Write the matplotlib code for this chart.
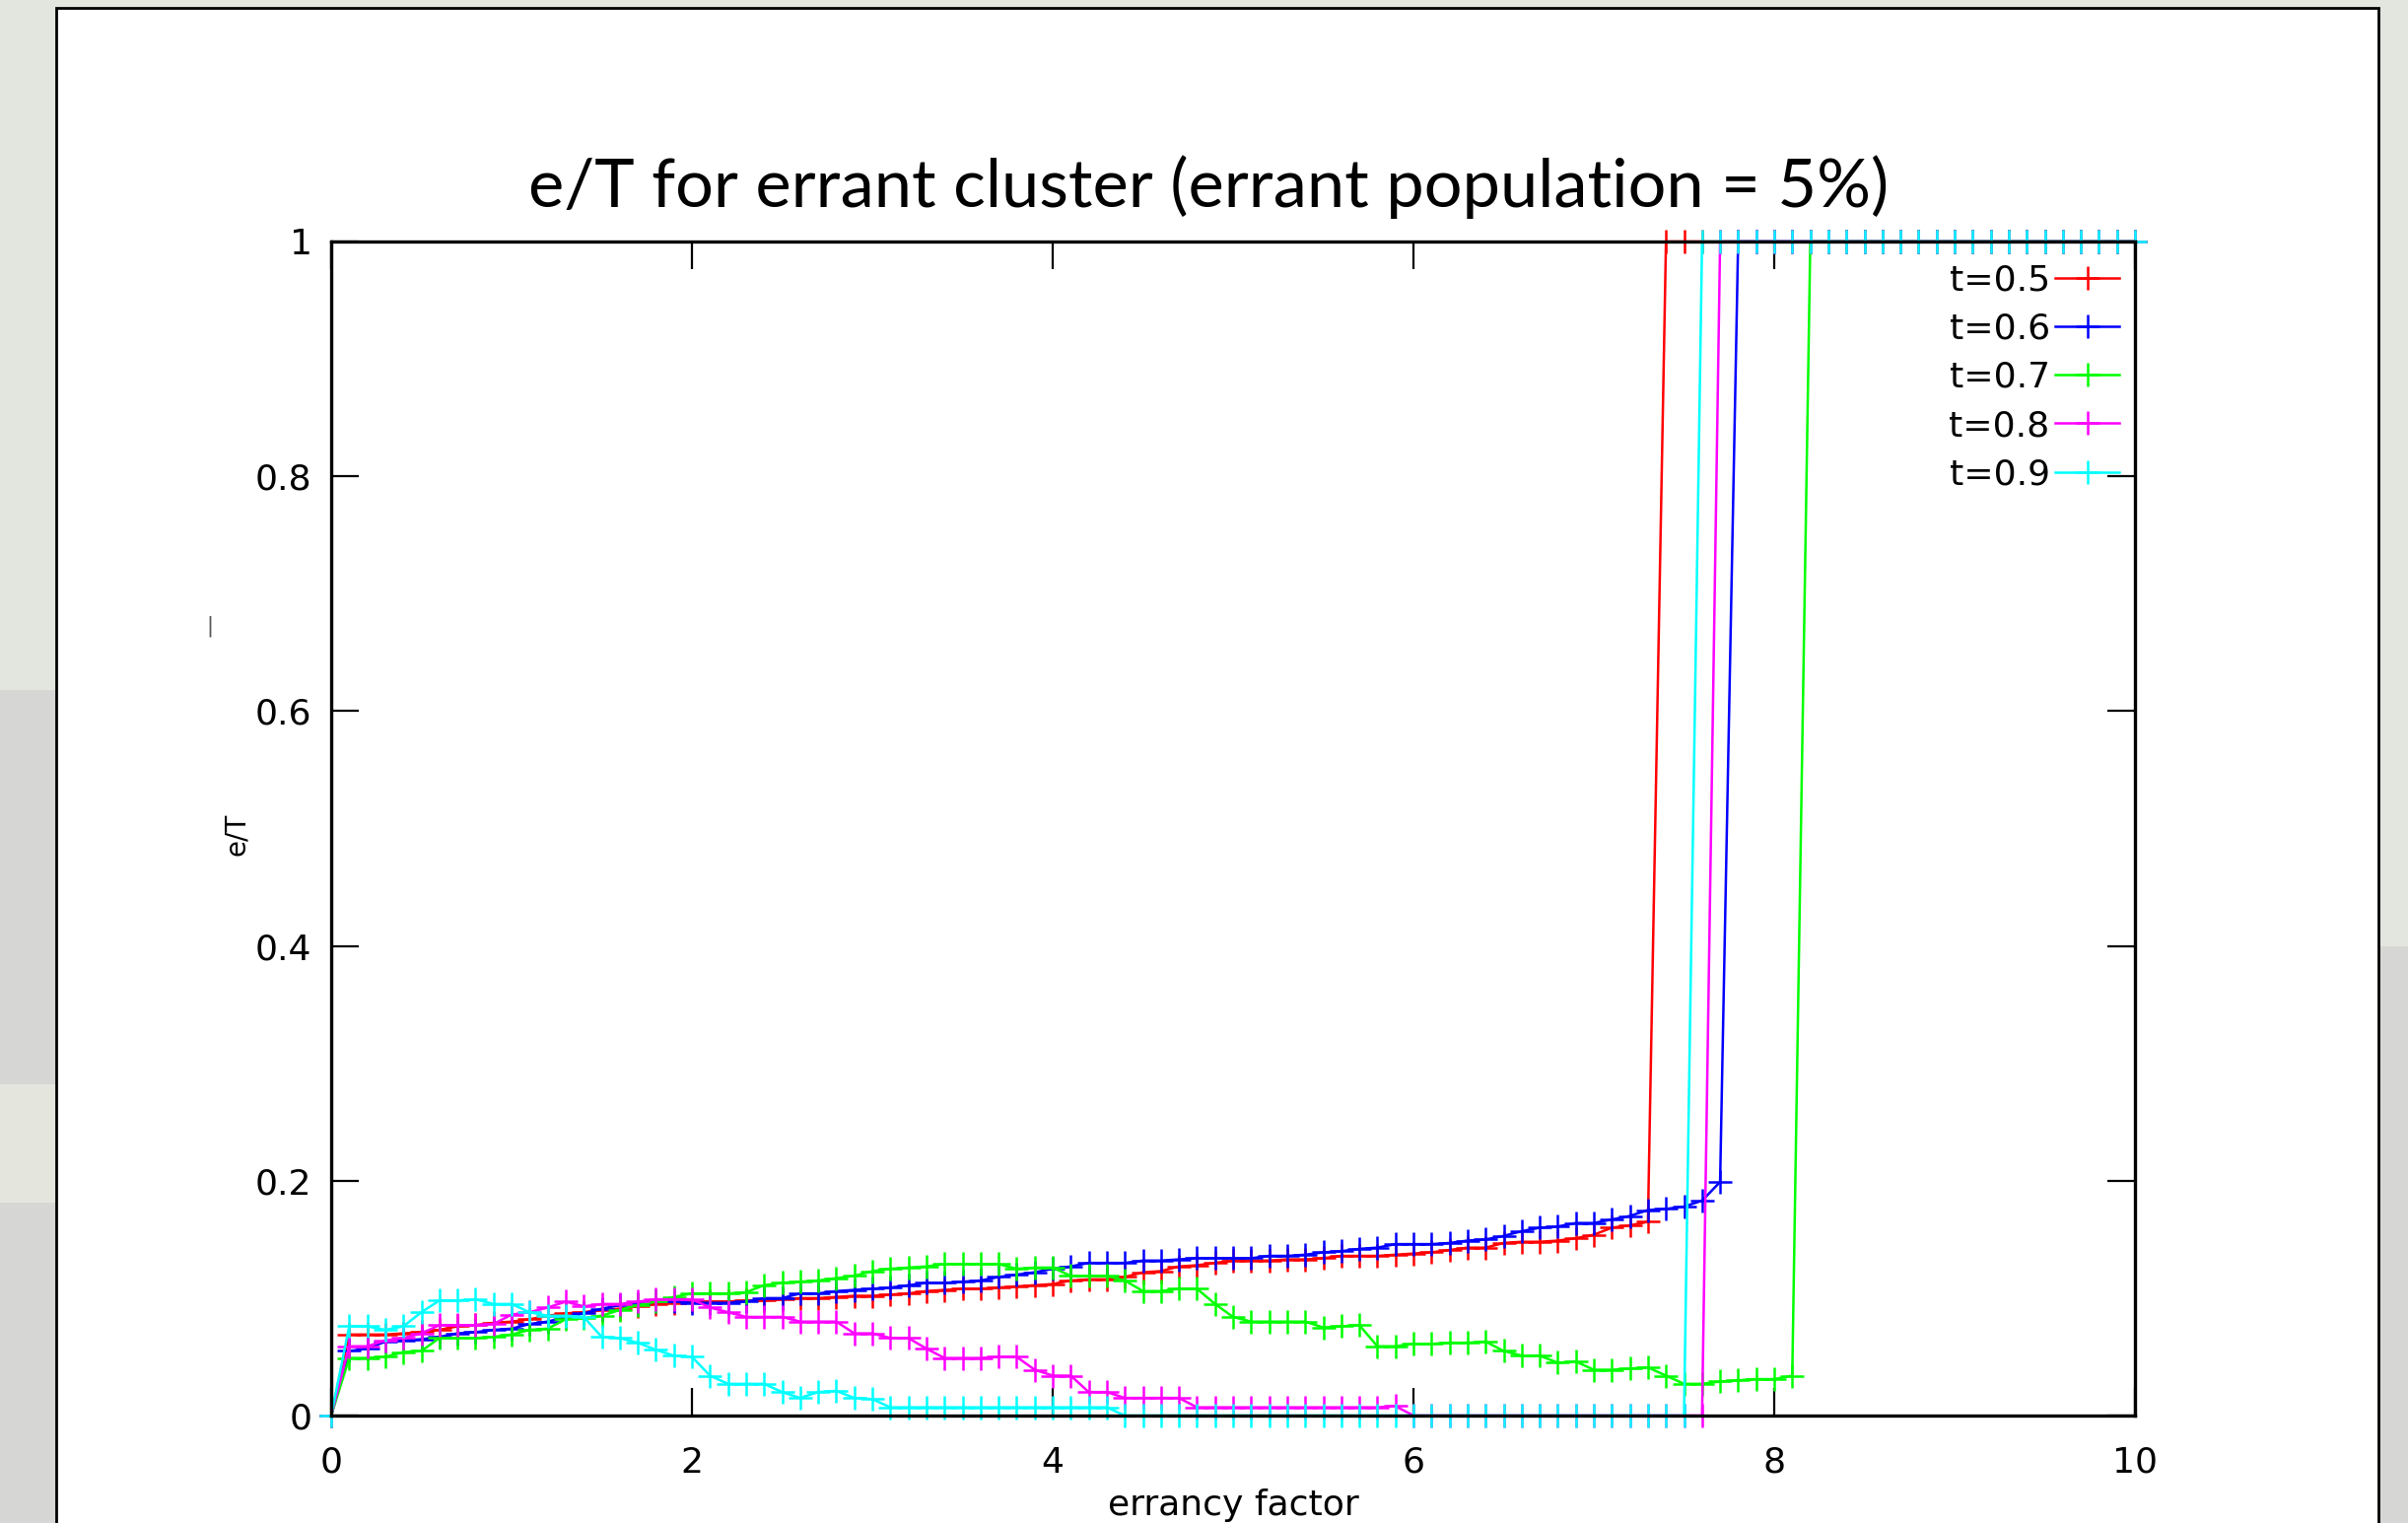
import numpy as np
import matplotlib.pyplot as plt
from matplotlib.patches import Rectangle

# errancy factor, sampled every 0.1 from 0 to 10
x = np.round(np.arange(0, 101) * 0.1, 1)

# e/T, one value per x step
t05 = [0.0,
       0.069, 0.069, 0.069, 0.070, 0.071, 0.073, 0.076, 0.077, 0.079,
       0.080, 0.082, 0.085, 0.087, 0.088, 0.090, 0.091, 0.093, 0.095, 0.096,
       0.097, 0.097, 0.097, 0.098, 0.098, 0.099, 0.100, 0.100, 0.101, 0.102,
       0.102, 0.103, 0.104, 0.106, 0.107, 0.108, 0.108, 0.109, 0.110, 0.111,
       0.112, 0.115, 0.116, 0.116, 0.118, 0.122, 0.123, 0.127, 0.128, 0.130,
       0.132, 0.132, 0.132, 0.133, 0.133, 0.134, 0.136, 0.136, 0.136, 0.137,
       0.138, 0.139, 0.141, 0.143, 0.143, 0.147, 0.148, 0.148, 0.149, 0.151,
       0.154, 0.160, 0.162, 0.165,
       1, 1, 1, 1, 1, 1, 1, 1, 1, 1, 1, 1, 1, 1, 1, 1, 1, 1, 1, 1, 1, 1, 1, 1, 1, 1, 1]

t06 = [0.0,
       0.055, 0.057, 0.063, 0.064, 0.065, 0.067, 0.070, 0.071, 0.073,
       0.074, 0.078, 0.080, 0.084, 0.087, 0.091, 0.094, 0.095, 0.097, 0.097,
       0.096, 0.096, 0.096, 0.097, 0.100, 0.100, 0.104, 0.104, 0.106, 0.107,
       0.108, 0.109, 0.111, 0.113, 0.113, 0.114, 0.115, 0.118, 0.120, 0.122,
       0.125, 0.127, 0.130, 0.130, 0.130, 0.132, 0.132, 0.133, 0.134, 0.134,
       0.134, 0.134, 0.136, 0.136, 0.137, 0.139, 0.140, 0.142, 0.143, 0.146,
       0.146, 0.146, 0.147, 0.149, 0.150, 0.153, 0.157, 0.160, 0.161, 0.164,
       0.164, 0.167, 0.170, 0.175, 0.176, 0.178, 0.183, 0.199,
       1, 1, 1, 1, 1, 1, 1, 1, 1, 1, 1, 1, 1, 1, 1, 1, 1, 1, 1, 1, 1, 1, 1]

t07 = [0.0,
       0.049, 0.049, 0.050, 0.054, 0.055, 0.066, 0.066, 0.066, 0.067,
       0.069, 0.073, 0.074, 0.082, 0.083, 0.085, 0.090, 0.094, 0.097, 0.101,
       0.104, 0.104, 0.104, 0.105, 0.111, 0.113, 0.114, 0.115, 0.117, 0.119,
       0.123, 0.125, 0.126, 0.127, 0.129, 0.129, 0.129, 0.129, 0.125, 0.126,
       0.126, 0.119, 0.119, 0.119, 0.115, 0.106, 0.106, 0.108, 0.108, 0.095,
       0.084, 0.080, 0.080, 0.080, 0.080, 0.075, 0.076, 0.077, 0.059, 0.059,
       0.061, 0.061, 0.062, 0.062, 0.063, 0.055, 0.051, 0.051, 0.045, 0.046,
       0.039, 0.039, 0.040, 0.041, 0.034, 0.027, 0.027, 0.029, 0.030, 0.031,
       0.031, 0.034,
       1, 1, 1, 1, 1, 1, 1, 1, 1, 1, 1, 1, 1, 1, 1, 1, 1, 1, 1]

t08 = [0.0,
       0.059, 0.059, 0.064, 0.066, 0.070, 0.077, 0.077, 0.077, 0.078,
       0.086, 0.088, 0.092, 0.097, 0.093, 0.095, 0.095, 0.097, 0.099, 0.099,
       0.099, 0.092, 0.088, 0.084, 0.084, 0.084, 0.080, 0.080, 0.080, 0.070,
       0.070, 0.066, 0.066, 0.057, 0.049, 0.049, 0.049, 0.050, 0.050, 0.039,
       0.034, 0.034, 0.020, 0.020, 0.015, 0.015, 0.015, 0.015, 0.007, 0.007,
       0.007, 0.007, 0.007, 0.007, 0.007, 0.007, 0.007, 0.007, 0.007, 0.008,
       0, 0, 0, 0, 0, 0, 0, 0, 0, 0,
       0, 0, 0, 0, 0, 0, 0,
       1, 1, 1, 1, 1, 1, 1, 1, 1, 1, 1, 1, 1, 1, 1, 1, 1, 1, 1, 1, 1, 1, 1, 1]

t09 = [0.0,
       0.076, 0.076, 0.073, 0.076, 0.088, 0.098, 0.098, 0.099, 0.095,
       0.095, 0.088, 0.085, 0.085, 0.084, 0.067, 0.066, 0.062, 0.056, 0.051,
       0.050, 0.034, 0.027, 0.027, 0.027, 0.020, 0.015, 0.020, 0.021, 0.015,
       0.014, 0.007, 0.007, 0.007, 0.007, 0.007, 0.007, 0.007, 0.007, 0.007,
       0.007, 0.007, 0.007, 0.007, 0, 0, 0, 0, 0, 0,
       0, 0, 0, 0, 0, 0, 0, 0, 0, 0,
       0, 0, 0, 0, 0, 0, 0, 0, 0, 0,
       0, 0, 0, 0, 0, 0,
       1, 1, 1, 1, 1, 1, 1, 1, 1, 1, 1, 1, 1, 1, 1, 1, 1, 1, 1, 1, 1, 1, 1, 1, 1]

labels = ['t=0.5', 't=0.6', 't=0.7', 't=0.8', 't=0.9']
colors = ['#ff0000', '#0000ff', '#00ff00', '#ff00ff', '#00ffff']
series = [t05, t06, t07, t08, t09]

xticks = [0, 2, 4, 6, 8, 10]
yticks = [0, 0.2, 0.4, 0.6, 0.8, 1]
yticklabels = ['0', '0.2', '0.4', '0.6', '0.8', '1']

W, H = 2443, 1545
fig = plt.figure(figsize=(W / 100, H / 100), dpi=100)
fig.patch.set_facecolor('#e3e6de')

# slide background: grey texture at the edges, white slide with black frame
fig.patches.append(Rectangle((0, 0), 57 / W, 1 - 700 / H, transform=fig.transFigure,
                             facecolor='#d6d6d4', edgecolor='none', zorder=-3))
fig.patches.append(Rectangle((0, 1 - 1220 / H), 57 / W, 120 / H, transform=fig.transFigure,
                             facecolor='#e4e6de', edgecolor='none', zorder=-3))
fig.patches.append(Rectangle((2413 / W, 0), 30 / W, 1 - 960 / H, transform=fig.transFigure,
                             facecolor='#d6d6d4', edgecolor='none', zorder=-3))
fig.patches.append(Rectangle((57 / W, -0.05), (2413 - 57) / W, 1.05 - 8 / H,
                             transform=fig.transFigure, facecolor='white',
                             edgecolor='black', linewidth=2, zorder=-2))

ax = fig.add_axes([336 / W, 1 - 1436 / H, (2166 - 336) / W, (1436 - 245) / H])
ax.set_facecolor('white')

for y, c, lab in zip(series, colors, labels):
    ax.plot(x, y, color=c, linewidth=1.8, marker='+', markersize=17,
            markeredgewidth=1.8, label=lab, clip_on=False)

ax.set_xlim(0, 10)
ax.set_ylim(0, 1)
ax.set_xticks(xticks)
ax.set_xticklabels([str(v) for v in xticks])
ax.set_yticks(yticks)
ax.set_yticklabels(yticklabels)
ax.tick_params(direction='in', length=20, width=1.6, top=True, right=True,
               labelsize=26, colors='black')
ax.tick_params(axis='x', pad=22)
ax.tick_params(axis='y', pad=14)
for lbl in ax.get_xticklabels() + ax.get_yticklabels():
    lbl.set_family('DejaVu Sans')
for s in ax.spines.values():
    s.set_linewidth(2.4)
    s.set_zorder(5)

leg = ax.legend(loc='upper right', bbox_to_anchor=(0.9913, 0.981), frameon=False,
                markerfirst=False, fontsize=26, handlelength=1.8, handletextpad=0.15,
                labelspacing=0.42, borderpad=0, borderaxespad=0)
for t in leg.get_texts():
    t.set_family('DejaVu Sans')

fig.text(1251 / W, 1 - 1510 / H, 'errancy factor', ha='center', va='top',
         fontsize=26, family='DejaVu Sans')
fig.text(240 / W, 1 - 846 / H, 'e/T', rotation=90, ha='center', va='center',
         fontsize=20, family='DejaVu Sans')
fig.text(213 / W, 1 - 635 / H, '|', ha='center', va='center',
         fontsize=15, color='#555555', family='DejaVu Sans')

title = fig.text(1226 / W, 1 - 190 / H, 'e/T for errant cluster (errant population = 5%)',
                 ha='center', va='center', fontsize=40, family='Lato')
fig.canvas.draw()
wpx = title.get_window_extent().width
title.set_fontsize(40 * 1379 / wpx)

fig.savefig('out.png', dpi=100, facecolor=fig.get_facecolor())
